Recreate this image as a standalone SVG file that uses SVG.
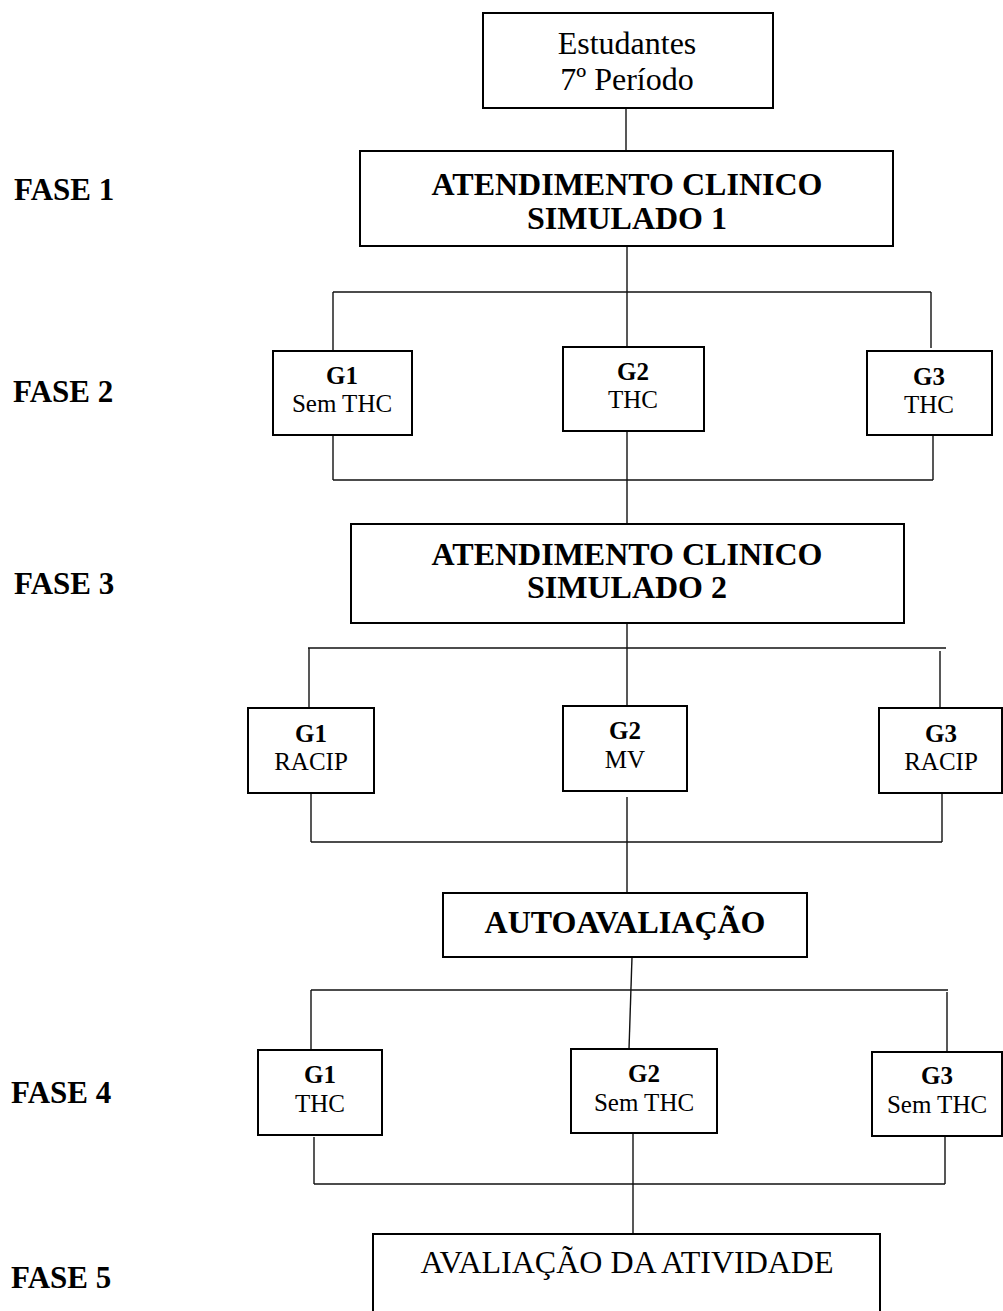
<svg xmlns="http://www.w3.org/2000/svg" width="1003" height="1311" viewBox="0 0 1003 1311">
<style>
  .box { fill: #ffffff; stroke: #000000; stroke-width: 2; }
  .ln { fill: none; stroke: #111111; stroke-width: 1.4; }
  text { font-family: "Liberation Serif", "Times New Roman", serif; fill: #000000; text-anchor: middle; }
  .big { font-size: 32px; }
  .bigb { font-size: 32px; font-weight: bold; }
  .fase { font-size: 31px; font-weight: bold; text-anchor: start; }
  .gb { font-size: 25px; font-weight: bold; }
  .gr { font-size: 25px; }
</style>
<rect width="1003" height="1311" fill="#ffffff"/>

<g id="connectors">
  <line class="ln" x1="626" y1="108" x2="626" y2="151"/>
  <line class="ln" x1="627" y1="246" x2="627" y2="292"/>
  <line class="ln" x1="333" y1="292" x2="931" y2="292"/>
  <line class="ln" x1="333" y1="292" x2="333" y2="351"/>
  <line class="ln" x1="627" y1="292" x2="627" y2="347"/>
  <line class="ln" x1="931" y1="292" x2="931" y2="348"/>
  <line class="ln" x1="333" y1="435" x2="333" y2="480"/>
  <line class="ln" x1="627" y1="431" x2="627" y2="524"/>
  <line class="ln" x1="933" y1="435" x2="933" y2="480"/>
  <line class="ln" x1="333" y1="480" x2="933" y2="480"/>

  <line class="ln" x1="627" y1="623" x2="627" y2="706"/>
  <line class="ln" x1="308" y1="648" x2="946" y2="648"/>
  <line class="ln" x1="309" y1="648" x2="309" y2="708"/>
  <line class="ln" x1="940" y1="651" x2="940" y2="708"/>
  <line class="ln" x1="311" y1="793" x2="311" y2="842"/>
  <line class="ln" x1="627" y1="797" x2="627" y2="893"/>
  <line class="ln" x1="942" y1="793" x2="942" y2="842"/>
  <line class="ln" x1="311" y1="842" x2="942" y2="842"/>

  <line class="ln" x1="632" y1="957" x2="629" y2="1049"/>
  <line class="ln" x1="311" y1="990" x2="948" y2="990"/>
  <line class="ln" x1="311" y1="990" x2="311" y2="1050"/>
  <line class="ln" x1="947" y1="992" x2="947" y2="1051"/>
  <line class="ln" x1="314" y1="1137" x2="314" y2="1184"/>
  <line class="ln" x1="633" y1="1133" x2="633" y2="1234"/>
  <line class="ln" x1="945" y1="1137" x2="945" y2="1184"/>
  <line class="ln" x1="314" y1="1184" x2="945" y2="1184"/>
</g>

<g id="fase-labels">
  <text class="fase" x="14" y="200">FASE 1</text>
  <text class="fase" x="13" y="402">FASE 2</text>
  <text class="fase" x="14" y="594">FASE 3</text>
  <text class="fase" x="11" y="1103">FASE 4</text>
  <text class="fase" x="11" y="1288">FASE 5</text>
</g>

<g id="estudantes">
  <rect class="box" x="483" y="13" width="290" height="95"/>
  <text class="big" x="627" y="54">Estudantes</text>
  <text class="big" x="627" y="90">7º Período</text>
</g>

<g id="atendimento1">
  <rect class="box" x="360" y="151" width="533" height="95"/>
  <text class="bigb" x="627" y="195">ATENDIMENTO CLINICO</text>
  <text class="bigb" x="627" y="229">SIMULADO 1</text>
</g>

<g id="f2-g1">
  <rect class="box" x="273" y="351" width="139" height="84"/>
  <text class="gb" x="342" y="384">G1</text>
  <text class="gr" x="342" y="412">Sem THC</text>
</g>
<g id="f2-g2">
  <rect class="box" x="563" y="347" width="141" height="84"/>
  <text class="gb" x="633" y="380">G2</text>
  <text class="gr" x="633" y="408">THC</text>
</g>
<g id="f2-g3">
  <rect class="box" x="867" y="351" width="125" height="84"/>
  <text class="gb" x="929" y="385">G3</text>
  <text class="gr" x="929" y="413">THC</text>
</g>

<g id="atendimento2">
  <rect class="box" x="351" y="524" width="553" height="99"/>
  <text class="bigb" x="627" y="565">ATENDIMENTO CLINICO</text>
  <text class="bigb" x="627" y="598">SIMULADO 2</text>
</g>

<g id="f3-g1">
  <rect class="box" x="248" y="708" width="126" height="85"/>
  <text class="gb" x="311" y="742">G1</text>
  <text class="gr" x="311" y="770">RACIP</text>
</g>
<g id="f3-g2">
  <rect class="box" x="563" y="706" width="124" height="85"/>
  <text class="gb" x="625" y="739">G2</text>
  <text class="gr" x="625" y="768">MV</text>
</g>
<g id="f3-g3">
  <rect class="box" x="879" y="708" width="123" height="85"/>
  <text class="gb" x="941" y="742">G3</text>
  <text class="gr" x="941" y="770">RACIP</text>
</g>

<g id="autoavaliacao">
  <rect class="box" x="443" y="893" width="364" height="64"/>
  <text class="bigb" x="625" y="933">AUTOAVALIAÇÃO</text>
</g>

<g id="f4-g1">
  <rect class="box" x="258" y="1050" width="124" height="85"/>
  <text class="gb" x="320" y="1083">G1</text>
  <text class="gr" x="320" y="1112">THC</text>
</g>
<g id="f4-g2">
  <rect class="box" x="571" y="1049" width="146" height="84"/>
  <text class="gb" x="644" y="1082">G2</text>
  <text class="gr" x="644" y="1111">Sem THC</text>
</g>
<g id="f4-g3">
  <rect class="box" x="872" y="1052" width="130" height="84"/>
  <text class="gb" x="937" y="1084">G3</text>
  <text class="gr" x="937" y="1113">Sem THC</text>
</g>

<g id="avaliacao-atividade">
  <rect class="box" x="373" y="1234" width="507" height="90"/>
  <text class="big" x="627" y="1273">AVALIAÇÃO DA ATIVIDADE</text>
</g>
</svg>
